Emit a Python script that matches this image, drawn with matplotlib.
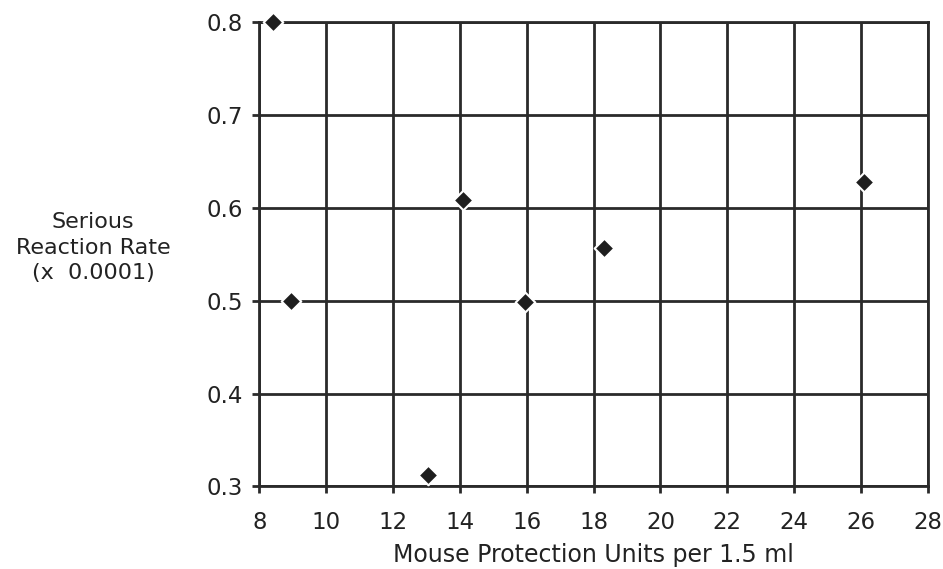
import matplotlib
matplotlib.use("Agg")
import matplotlib.pyplot as plt

# Values
protection_units = [8.4, 8.95, 13.05, 14.1, 15.95, 18.3, 26.1]
reaction_rate = [0.80, 0.50, 0.312, 0.608, 0.498, 0.557, 0.627]

x_ticks = [8, 10, 12, 14, 16, 18, 20, 22, 24, 26, 28]
y_ticks = [0.3, 0.4, 0.5, 0.6, 0.7, 0.8]

plt.rcParams['font.family'] = ['DejaVu Sans']

fig = plt.figure(figsize=(9.43, 5.69), dpi=100)
ax = fig.add_axes([0.275, 0.145, 0.709, 0.817])

ax.set_xlim(8, 28)
ax.set_ylim(0.3, 0.8)
ax.set_xticks(x_ticks)
ax.set_yticks(y_ticks)
ax.set_yticklabels([f"{v:.1f}" for v in y_ticks])

ax.grid(True, color="#2a2a2a", linewidth=2.0)
ax.set_axisbelow(True)
for s in ax.spines.values():
    s.set_linewidth(2.0)
    s.set_color("#2a2a2a")

ax.tick_params(direction="out", length=5, width=2, color="#2a2a2a",
               labelsize=16.5, labelcolor="#222222")
ax.tick_params(axis="x", pad=13)
ax.tick_params(axis="y", pad=7)

ax.scatter(protection_units, reaction_rate, marker="D", s=100,
           color="#1e1e1e", edgecolors="white", linewidths=1.5,
           zorder=5, clip_on=False)

ax.set_xlabel("Mouse Protection Units per 1.5 ml", fontsize=17,
              color="#222222", labelpad=6)
fig.text(0.0985, 0.565, "Serious\nReaction Rate\n(x  0.0001)", ha="center",
         va="center", fontsize=16, color="#222222", linespacing=1.35)

fig.savefig("out.png", dpi=100)
